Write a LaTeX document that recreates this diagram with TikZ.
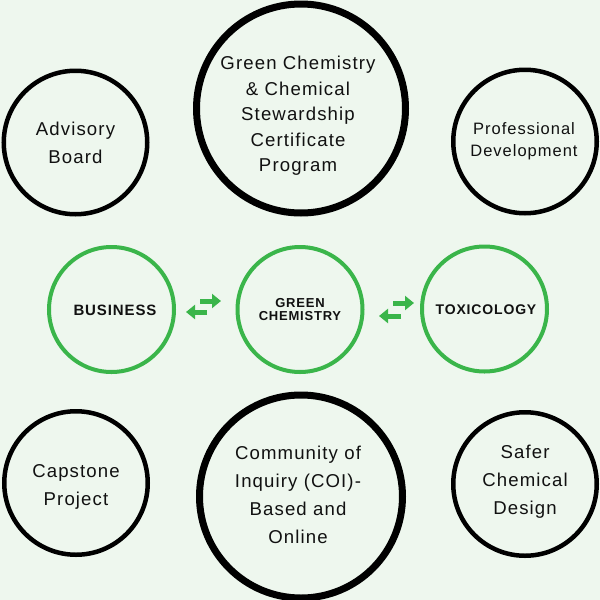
\documentclass[tikz,border=0pt]{standalone}
\usepackage{fontspec}
\setmainfont{Liberation Sans}[LetterSpace=6]
\usetikzlibrary{arrows.meta}
\definecolor{bgc}{HTML}{EEF7EE}
\definecolor{grn}{HTML}{3AB54A}
\definecolor{ink}{HTML}{111111}
\tikzset{
  bigring/.style={circle, draw=black, line width=7pt, inner sep=0pt, minimum size=#1},
  ring/.style={circle, draw=black, line width=4.5pt, inner sep=0pt, minimum size=143.5pt},
  gring/.style={circle, draw=grn, line width=4pt, inner sep=0pt, minimum size=125pt},
  lbl/.style={align=center, text=ink, inner sep=0pt, font=\fontsize{18.6pt}{28pt}\selectfont},
  glbl/.style={align=center, text=ink, inner sep=0pt, font=\fontsize{14pt}{14pt}\selectfont\bfseries},
  garrow/.style={draw=grn, line width=5pt, -{Triangle[length=9pt,width=14pt]}}
}
\begin{document}
\begin{tikzpicture}[x=1pt,y=-1pt]
\fill[bgc] (0,0) rectangle (600,600);
\useasboundingbox (0,0) rectangle (600,600);
\begin{scope}
\clip (0,0) rectangle (600,600);
% outer circles
\node[ring] (adv) at (75.5,142.5) {};
\node[ring] (prof) at (525,141.5) {};
\node[ring] (cap) at (76,483) {};
\node[ring] (safer) at (525,484) {};
\node[bigring=209pt] (top) at (301,108.5) {};
\node[bigring=203pt] (coi) at (301,496.5) {};
% green circles
\node[gring] (bus) at (111.5,309.5) {};
\node[gring] (gc) at (300,309.5) {};
\node[gring] (tox) at (484.5,309) {};
\end{scope}
% labels
\node[lbl] (advt) at (75.5,142.5) {Advisory\\Board};
\node[lbl, font=\fontsize{16.5pt}{22pt}\selectfont] (proft) at (524,141) {Professional\\Development};
\node[lbl] (capt) at (76,487) {Capstone\\Project};
\node[lbl] (safert) at (525,481.5) {Safer\\Chemical\\Design};
\node[lbl, font=\fontsize{18.6pt}{25.5pt}\selectfont] (topt) at (298,116) {Green Chemistry\\\& Chemical\\Stewardship\\Certificate\\Program};
\node[lbl] (coit) at (298,494.5) {Community of\\Inquiry (COI)-\\Based and\\Online};
\node[glbl, font=\fontsize{15pt}{15pt}\selectfont\bfseries] (bust) at (115,310) {BUSINESS};
\node[glbl, font=\fontsize{13pt}{13.5pt}\selectfont\bfseries] (gct) at (300,309.5) {GREEN\\CHEMISTRY};
\node[glbl] (toxt) at (486,310) {TOXICOLOGY};
% arrows
\coordinate (a1s) at (200,301); \coordinate (a1e) at (221,301);
\coordinate (a2s) at (207,312); \coordinate (a2e) at (186,312);
\coordinate (a3s) at (393,303); \coordinate (a3e) at (414,303);
\coordinate (a4s) at (401,316); \coordinate (a4e) at (379,316);
\draw[garrow] (a1s) -- (a1e);
\draw[garrow] (a2s) -- (a2e);
\draw[garrow] (a3s) -- (a3e);
\draw[garrow] (a4s) -- (a4e);
\end{tikzpicture}
\end{document}
